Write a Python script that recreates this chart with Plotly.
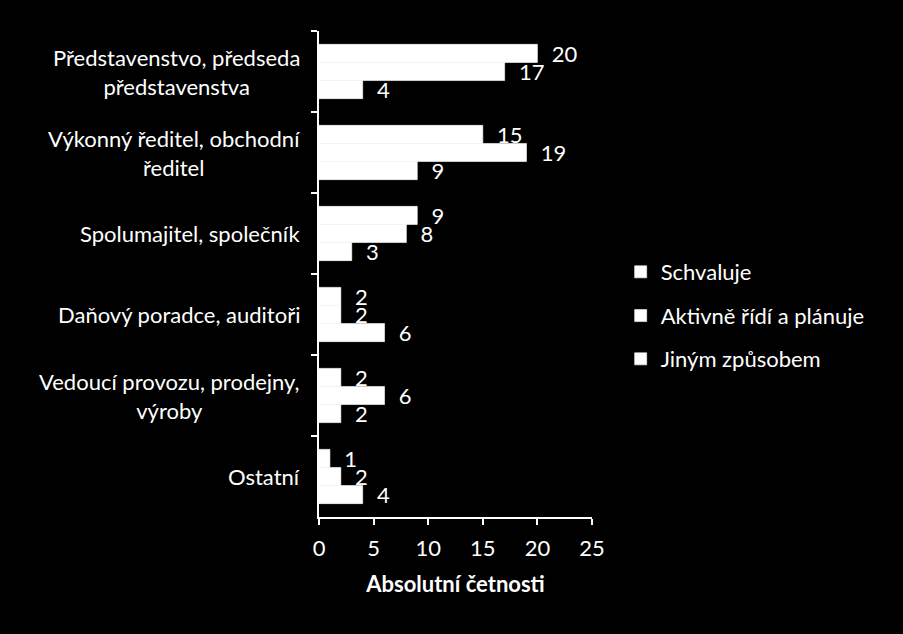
import plotly.graph_objects as go

categories = ["Představenstvo, předseda<br>představenstva",
              "Výkonný ředitel, obchodní<br>ředitel",
              "Spolumajitel, společník",
              "Daňový poradce, auditoři",
              "Vedoucí provozu, prodejny,<br>výroby",
              "Ostatní"]
series_names = ["Schvaluje", "Aktivně řídí a plánuje", "Jiným způsobem"]
schvaluje = [20, 15, 9, 2, 2, 1]
aktivne = [17, 19, 8, 2, 6, 2]
jinym = [4, 9, 3, 6, 2, 4]
x_ticks = [0, 5, 10, 15, 20, 25]

FONT = "Lato"
FS = 22
fig = go.Figure()
legends = ["legend", "legend2", "legend3"]
for name, vals, lg in zip(series_names, [schvaluje, aktivne, jinym], legends):
    fig.add_trace(go.Bar(
        y=categories, x=vals, name=name, orientation="h",
        marker=dict(color="white", line=dict(width=0.6, color="white")),
        text=[f"  {v}" for v in vals], textposition="outside",
        textfont=dict(color="white", size=FS, family=FONT),
        cliponaxis=False, legend=lg,
    ))

fig.update_layout(
    width=903, height=634,
    paper_bgcolor="black", plot_bgcolor="black",
    margin=dict(l=319, r=311, t=31, b=117),
    barmode="group", bargap=0.33, bargroupgap=0,
    uniformtext=dict(mode=False),
    font=dict(family=FONT, color="white", size=FS),
    showlegend=True,
)
fig.update_traces(constraintext="none")

fig.update_xaxes(range=[0, 25], tickvals=x_ticks, showgrid=False, zeroline=False,
                 showline=True, linecolor="white", linewidth=1.5,
                 ticks="outside", ticklen=6, tickcolor="white", tickwidth=1.5,
                 ticklabelstandoff=5,
                 tickfont=dict(size=FS, color="white"),
                 title=dict(text="<b>Absolutní četnosti</b>", font=dict(size=FS), standoff=16))
fig.update_yaxes(type="category", autorange="reversed", categoryorder="array",
                 categoryarray=categories, showgrid=False, zeroline=False,
                 showline=True, linecolor="white", linewidth=1.5,
                 ticks="outside", ticklen=6, tickcolor="white", tickwidth=1.5,
                 tickson="boundaries", showticklabels=False)

for c in categories:
    fig.add_annotation(x=-0.062, xref="paper", y=c, yref="y", text=c,
                       showarrow=False, xanchor="right", align="center",
                       font=dict(size=FS, color="white", family=FONT))

legend_y = [0.504, 0.414, 0.325]
for lg, yy in zip(legends, legend_y):
    fig.update_layout({lg: dict(x=1.105, y=yy, xanchor="left", yanchor="middle",
                                bgcolor="rgba(0,0,0,0)",
                                font=dict(size=FS, color="white", family=FONT))})

fig.write_html("out.html")
